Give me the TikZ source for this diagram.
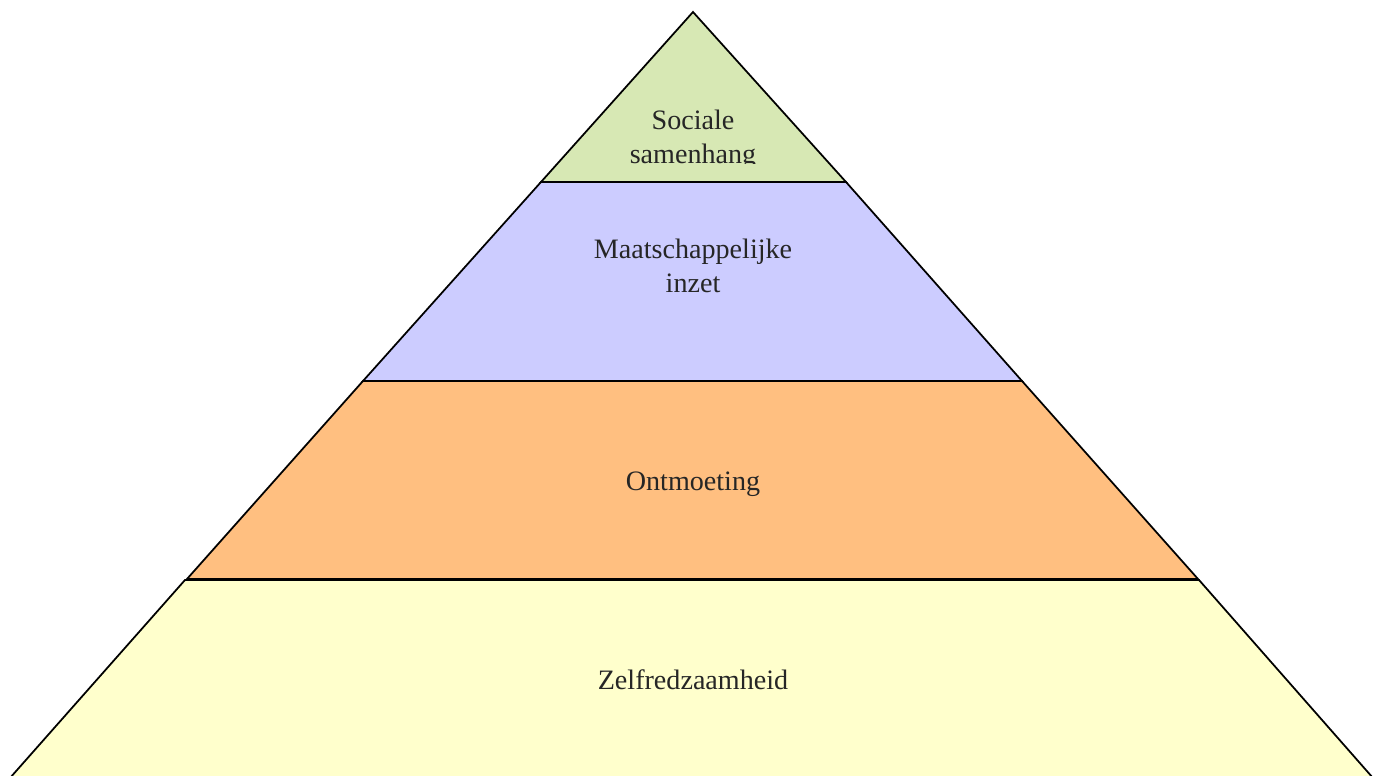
\documentclass[tikz,border=0pt]{standalone}
\usepackage{fontspec}
\setmainfont{Liberation Serif}
\definecolor{topgreen}{RGB}{215,232,180}
\definecolor{layerblue}{RGB}{204,204,255}
\definecolor{layerorange}{RGB}{255,191,128}
\definecolor{layeryellow}{RGB}{255,255,204}
\tikzset{
  layer/.style={draw, line width=1pt, line join=miter},
  label/.style={align=center, font=\fontsize{16}{19.5}\selectfont, text=black!85}
}
\begin{document}
\begin{tikzpicture}[x=0.02cm, y=-0.02cm]
		\useasboundingbox (0,0) rectangle (1383,776);
		
		% Layer 4 (bottom)
		\draw[layer, fill=layeryellow] (185,580) -- (1199,580) -- (1373,778) -- (10,778) -- cycle;
		\node[label] (L4) at (693,680) {Zelfredzaamheid};
		
		% Layer 3
		\draw[layer, fill=layerorange] (363,381) -- (1022,381) -- (1198,579) -- (187,579) -- cycle;
		\node[label] (L3) at (693,484) {Ontmoeting};
		
		% Layer 2
		\draw[layer, fill=layerblue] (541,182) -- (846,182) -- (1022,381) -- (363,381) -- cycle;
		\node[label] (L2) at (693,266) {Maatschappelijke\\inzet};
		
		% Layer 1 (top)
		\draw[layer, fill=topgreen] (693,12) -- (846,182) -- (541,182) -- cycle;
		\begin{scope}
			\clip (540,40) rectangle (846,164);
			\node[label] (L1) at (693,140) {Sociale\\samenhang};
		\end{scope}
		
	\end{tikzpicture}
\end{document}
